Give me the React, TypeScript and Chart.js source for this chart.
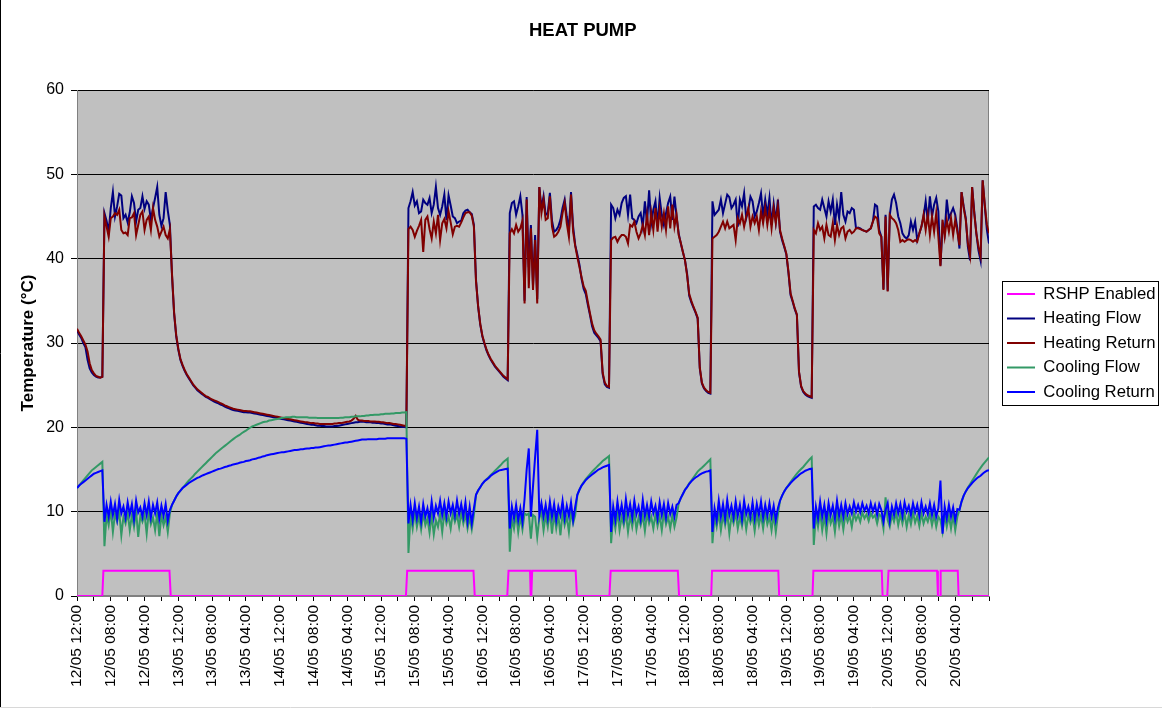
import React, { useEffect, useRef } from 'react';
import { Chart, registerables } from 'chart.js';

Chart.register(...registerables);

const CHART_TITLE = 'HEAT PUMP';
const Y_TITLE = 'Temperature (°C)';
const seriesNames = ['RSHP Enabled', 'Heating Flow', 'Heating Return', 'Cooling Flow', 'Cooling Return'];
const seriesColors = ['#FF00FF', '#000080', '#800000', '#339966', '#0000FF'];

// category labels, one every 8 hours from 12/05 00:00
const tickLabels = [
  '12/05 12:00', '12/05 08:00', '12/05 04:00',
  '13/05 12:00', '13/05 08:00', '13/05 04:00',
  '14/05 12:00', '14/05 08:00', '14/05 04:00',
  '15/05 12:00', '15/05 08:00', '15/05 04:00',
  '16/05 12:00', '16/05 08:00', '16/05 04:00',
  '17/05 12:00', '17/05 08:00', '17/05 04:00',
  '18/05 12:00', '18/05 08:00', '18/05 04:00',
  '19/05 12:00', '19/05 08:00', '19/05 04:00',
  '20/05 12:00', '20/05 08:00', '20/05 04:00',
];
const HOURS_PER_LABEL = 8;
const HOURS_TOTAL = 216;
const Y_MIN = 0;
const Y_MAX = 60;
const Y_STEP = 10;

// readings every half hour; each segment starts at the given hour
const SAMPLE_STEP = 0.5;
const segmentStartHours = [0, 6.5, 22.5, 78.5, 94.5, 102.5, 126.5, 150.5, 174.5];

// RSHP enabled: switching instants (hours) and states
const rshpHours = [0, 6.0, 6.25, 21.9, 22.2, 77.9, 78.2, 93.9, 94.2, 101.9, 102.2, 107.3, 107.45, 107.6, 107.8,
  118.1, 118.4, 126.1, 126.4, 142.3, 142.6, 150.2, 150.4, 166.1, 166.3, 174.2, 174.4, 190.6, 190.8,
  191.9, 192.2, 203.7, 203.9, 204.4, 204.55, 208.6, 208.8, 216];
const rshpValues = [0, 0, 3, 3, 0, 0, 3, 3, 0, 0, 3, 3, 0, 0, 3,
  3, 0, 0, 3, 3, 0, 0, 3, 3, 0, 0, 3, 3, 0,
  0, 3, 3, 0, 0, 3, 3, 0, 0];

const heatingFlow = [
  [31.5, 31.0, 30.6, 30.0, 29.5, 28.0, 27.0, 26.5, 26.2, 26.0, 25.9, 25.9, 26.0],
  [45.4, 44.5, 43.2, 46.0, 47.9, 45.0, 46.2, 47.7, 47.5, 44.8,
    45.2, 44.3, 45.5, 47.4, 46.6, 44.4, 45.8, 46.0, 47.4, 45.9,
    46.8, 46.4, 44.6, 46.0, 47.2, 48.5, 45.2, 43.9, 44.8, 47.9,
    45.7, 44.0],
  [38.0, 33.5, 30.8, 29.2, 28.0, 27.3, 26.7, 26.2, 25.8, 25.4,
    25.0, 24.7, 24.4, 24.2, 24.0, 23.8, 23.6, 23.5, 23.35, 23.2,
    23.05, 22.95, 22.85, 22.7, 22.6, 22.45, 22.35, 22.25, 22.15, 22.05,
    22.0, 21.95, 21.9, 21.85, 21.8, 21.8, 21.75, 21.75, 21.7, 21.65,
    21.6, 21.55, 21.5, 21.45, 21.4, 21.35, 21.3, 21.25, 21.2, 21.15,
    21.1, 21.05, 21.0, 20.95, 20.9, 20.85, 20.8, 20.75, 20.7, 20.65,
    20.6, 20.55, 20.5, 20.45, 20.4, 20.35, 20.3, 20.3, 20.25, 20.2,
    20.2, 20.15, 20.15, 20.1, 20.1, 20.1, 20.1, 20.15, 20.15, 20.2,
    20.25, 20.3, 20.35, 20.4, 20.45, 20.5, 20.55, 20.6, 20.6, 20.65,
    20.65, 20.65, 20.6, 20.6, 20.6, 20.55, 20.55, 20.5, 20.5, 20.45,
    20.45, 20.4, 20.35, 20.35, 20.3, 20.25, 20.2, 20.15, 20.1, 20.05,
    20.05, 20.0],
  [46.0, 46.8, 47.9, 46.3, 46.8, 45.4, 45.6, 47.0, 46.6, 46.4,
    47.2, 45.4, 46.4, 48.5, 46.0, 45.2, 46.2, 47.6, 44.6, 47.5,
    46.3, 45.0, 44.8, 44.2, 44.4, 44.5, 45.4, 45.7, 45.8, 45.5,
    45.3, 44.0],
  [37.5, 34.3, 32.2, 30.8, 29.9, 29.1, 28.5, 28.0, 27.6, 27.2, 26.9, 26.6, 26.3, 26.0, 25.8, 25.6],
  [45.4, 46.6, 46.8, 45.2, 46.2, 47.4, 45.2, 35.0, 47.3, 39.0,
    44.0, 36.8, 42.8, 35.2, 48.5, 46.0, 47.4, 45.2, 45.4, 47.8,
    44.5, 43.2, 43.4, 43.8, 44.6, 46.0, 47.0, 45.0, 43.4, 47.9,
    43.8, 41.6, 40.5, 39.3, 37.6, 36.4, 35.8, 34.5, 33.3, 32.0,
    31.2, 30.9, 30.6, 30.2, 26.3, 25.1, 24.8, 24.7],
  [46.4, 46.0, 44.8, 45.8, 45.2, 46.6, 47.2, 47.4, 45.2, 47.6,
    44.8, 44.6, 44.2, 45.0, 45.4, 43.8, 46.8, 44.2, 48.1, 44.2,
    45.8, 46.8, 44.0, 47.2, 45.2, 44.0, 45.4, 46.6, 47.35, 44.6,
    47.35, 45.0, 43.0, 41.8, 40.8, 39.8, 38.2, 35.6, 34.8, 34.2,
    33.6, 32.9, 27.0, 25.2, 24.6, 24.3, 24.1, 24.0],
  [46.8, 45.2, 45.5, 45.8, 47.0, 45.4, 46.5, 47.6, 47.3, 46.0,
    46.4, 47.0, 43.8, 47.0, 46.2, 47.75, 44.8, 45.8, 47.35, 46.8,
    45.0, 45.6, 46.6, 47.75, 45.0, 47.0, 45.2, 47.2, 44.0, 46.5,
    44.4, 47.0, 43.2, 42.2, 41.4, 40.5, 38.3, 35.7, 34.9, 34.0,
    33.3, 26.5, 24.8, 24.2, 23.9, 23.7, 23.6, 23.5],
  [46.2, 46.4, 46.0, 45.8, 47.0, 46.0, 45.0, 46.8, 45.6, 47.0,
    44.0, 46.4, 44.8, 47.9, 45.2, 44.4, 45.6, 45.4, 46.0, 45.8,
    43.6, 43.7, 43.6, 43.4, 43.3, 43.2, 43.4, 43.6, 44.4, 46.4,
    46.2, 43.4, 42.6, 36.4, 45.2, 36.2, 45.2, 47.0, 47.6, 46.6,
    45.0, 44.2, 43.0, 42.6, 42.4, 42.8, 44.4, 43.4, 44.4, 42.2,
    43.0, 43.8, 45.0, 46.8, 44.4, 47.4, 45.0, 46.4, 47.2, 45.6,
    39.2, 44.0, 43.0, 47.0, 44.8, 45.4, 46.0, 45.2, 43.6, 41.2,
    47.9, 46.2, 44.8, 41.4, 39.8, 48.5, 45.6, 43.0, 41.0, 39.8,
    49.3, 46.2, 43.4, 41.8],
];

const heatingReturn = [
  [31.7, 31.2, 30.8, 30.3, 29.8, 29.0, 27.6, 26.8, 26.4, 26.1, 26.0, 25.9, 26.0],
  [45.0, 43.8, 42.6, 44.8, 45.0, 45.4, 45.2, 45.8, 43.4, 43.0,
    43.1, 42.8, 44.8, 44.9, 45.4, 42.8, 44.0, 45.2, 45.6, 43.4,
    44.6, 45.0, 43.4, 46.0, 44.6, 43.8, 42.6, 43.2, 43.8, 42.8,
    42.4, 43.5],
  [38.2, 33.6, 30.9, 29.3, 28.1, 27.4, 26.8, 26.3, 25.9, 25.5,
    25.1, 24.8, 24.5, 24.3, 24.1, 23.9, 23.7, 23.6, 23.45, 23.3,
    23.2, 23.1, 23.0, 22.85, 22.75, 22.6, 22.5, 22.4, 22.3, 22.2,
    22.15, 22.1, 22.05, 22.0, 21.95, 21.95, 21.9, 21.9, 21.85, 21.8,
    21.75, 21.7, 21.65, 21.6, 21.55, 21.5, 21.45, 21.4, 21.35, 21.3,
    21.25, 21.2, 21.15, 21.1, 21.05, 21.0, 20.95, 20.9, 20.85, 20.8,
    20.75, 20.7, 20.65, 20.6, 20.6, 20.55, 20.5, 20.5, 20.45, 20.45,
    20.4, 20.4, 20.4, 20.4, 20.4, 20.4, 20.4, 20.45, 20.45, 20.5,
    20.5, 20.55, 20.6, 20.65, 20.7, 20.8, 21.0, 21.35, 20.9, 20.8,
    20.8, 20.75, 20.75, 20.75, 20.7, 20.7, 20.7, 20.65, 20.65, 20.6,
    20.6, 20.55, 20.5, 20.5, 20.45, 20.4, 20.4, 20.35, 20.3, 20.25,
    20.2, 20.2],
  [43.5, 43.8, 43.4, 42.6, 43.3, 43.9, 44.6, 40.8, 44.6, 45.0,
    43.5, 42.4, 44.4, 43.0, 45.2, 42.2, 44.2, 44.7, 43.6, 45.6,
    44.3, 42.9, 43.8, 43.9, 43.8, 44.3, 44.9, 45.4, 45.5, 45.5,
    45.1, 43.8],
  [37.3, 34.4, 32.3, 30.9, 30.0, 29.2, 28.6, 28.1, 27.7, 27.3, 27.0, 26.7, 26.4, 26.1, 25.9, 25.7],
  [43.0, 43.5, 43.0, 44.0, 43.2, 43.6, 44.5, 34.7, 47.0, 36.5,
    43.6, 36.3, 42.2, 34.7, 48.5, 45.4, 47.0, 44.6, 44.8, 47.4,
    43.8, 42.6, 42.8, 43.2, 43.8, 45.4, 46.6, 44.2, 42.6, 47.6,
    43.2, 41.5, 40.2, 39.0, 37.8, 36.7, 36.2, 34.8, 33.5, 32.3,
    31.5, 31.1, 30.8, 30.4, 26.5, 25.3, 24.9, 24.8],
  [42.2, 42.5, 42.6, 42.0, 42.5, 42.8, 42.8, 42.6, 41.8, 44.0,
    43.8, 44.4, 43.2, 42.4, 43.0, 44.0, 42.8, 45.2, 42.8, 45.4,
    43.4, 46.0, 43.2, 45.8, 43.8, 45.4, 43.4, 46.2, 43.6, 46.4,
    43.8, 45.2, 42.8, 41.9, 40.8, 39.8, 38.0, 35.8, 35.0, 34.3,
    33.7, 33.0, 27.1, 25.3, 24.7, 24.4, 24.2, 24.1],
  [42.4, 42.6, 42.8, 43.2, 43.8, 44.4, 43.6, 44.4, 43.6, 43.8,
    44.0, 42.2, 44.8, 44.2, 45.2, 43.8, 45.0, 46.0, 43.8, 45.0,
    44.2, 45.0, 43.4, 45.6, 44.2, 46.0, 44.0, 45.8, 43.6, 46.0,
    44.2, 46.2, 43.4, 42.4, 41.5, 40.6, 38.5, 35.9, 35.0, 34.1,
    33.4, 26.6, 24.9, 24.3, 24.0, 23.8, 23.7, 23.6],
  [43.4, 43.0, 44.2, 43.4, 43.8, 42.4, 44.0, 42.8, 42.6, 44.2,
    42.2, 44.0, 42.8, 43.6, 43.8, 42.4, 43.2, 43.4, 43.0, 43.2,
    43.6, 43.6, 43.5, 43.4, 43.3, 43.2, 43.4, 43.6, 44.4, 45.0,
    44.8, 43.0, 42.6, 36.3, 45.0, 36.1, 45.2, 44.8, 44.6, 44.2,
    43.4, 42.0, 42.2, 42.0, 42.2, 42.3, 42.2, 42.0, 42.2, 42.0,
    43.0, 43.8, 45.2, 43.4, 45.2, 42.8, 45.0, 43.2, 45.4, 42.6,
    39.1, 44.6, 42.6, 44.6, 43.2, 44.8, 42.8, 44.6, 43.2, 41.6,
    47.9, 46.0, 44.6, 41.8, 40.4, 48.5, 45.4, 43.0, 41.4, 40.3,
    49.3, 46.4, 44.0, 43.0],
];

const coolingFlow = [
  [12.8, 13.1, 13.4, 13.7, 14.0, 14.3, 14.6, 14.9, 15.1, 15.3, 15.5, 15.7, 15.9],
  [5.9, 9.6, 8.4, 10.2, 7.6, 9.8, 8.8, 10.0, 7.2, 9.4,
    8.6, 9.9, 7.8, 9.6, 8.2, 10.1, 7.0, 9.5, 8.8, 9.7,
    7.4, 10.0, 8.5, 9.3, 7.8, 9.8, 7.1, 9.6, 8.4, 9.4,
    7.6, 9.8],
  [10.8, 11.3, 11.8, 12.2, 12.5, 12.8, 13.1, 13.4, 13.7, 13.95,
    14.2, 14.5, 14.75, 15.0, 15.25, 15.5, 15.75, 16.0, 16.25, 16.5,
    16.75, 17.0, 17.2, 17.4, 17.6, 17.8, 18.0, 18.2, 18.4, 18.6,
    18.8, 18.95, 19.1, 19.3, 19.45, 19.6, 19.8, 19.95, 20.1, 20.2,
    20.3, 20.4, 20.5, 20.6, 20.65, 20.7, 20.8, 20.85, 20.9, 20.95,
    21.0, 21.05, 21.1, 21.15, 21.2, 21.2, 21.2, 21.25, 21.25, 21.2,
    21.2, 21.2, 21.2, 21.2, 21.2, 21.15, 21.15, 21.15, 21.15, 21.1,
    21.1, 21.1, 21.1, 21.1, 21.1, 21.1, 21.1, 21.1, 21.1, 21.1,
    21.15, 21.15, 21.2, 21.2, 21.2, 21.25, 21.25, 21.3, 21.3, 21.3,
    21.35, 21.35, 21.4, 21.4, 21.45, 21.45, 21.5, 21.5, 21.5, 21.55,
    21.55, 21.6, 21.6, 21.6, 21.65, 21.65, 21.7, 21.7, 21.7, 21.75,
    21.75, 21.8],
  [5.1, 9.6, 8.0, 10.0, 8.2, 9.5, 7.9, 9.8, 8.4, 9.2,
    7.5, 9.6, 7.3, 9.0, 8.2, 9.7, 7.6, 9.9, 8.6, 9.4,
    8.0, 9.8, 8.8, 9.6, 8.2, 9.9, 8.6, 9.7, 8.0, 9.3,
    7.9, 9.6],
  [12.0, 12.5, 12.9, 13.3, 13.6, 13.85, 14.1, 14.35, 14.6, 14.85, 15.1, 15.35, 15.6, 15.9, 16.1, 16.3],
  [5.25, 9.2, 8.0, 9.8, 7.6, 9.4, 7.9, 9.8, 9.6, 9.8,
    6.8, 9.6, 9.4, 7.0, 9.2, 10.0, 7.8, 9.6, 8.2, 10.1,
    7.4, 9.8, 8.0, 9.6, 7.2, 9.9, 8.4, 9.4, 7.6, 10.0,
    8.6, 9.6, 12.0, 12.6, 13.1, 13.5, 13.85, 14.15, 14.45, 14.75,
    15.0, 15.25, 15.5, 15.75, 16.0, 16.2, 16.4, 16.6],
  [6.25, 9.6, 8.0, 10.0, 7.8, 9.4, 8.4, 9.8, 7.6, 9.5,
    8.2, 9.9, 7.9, 9.3, 8.4, 9.6, 7.7, 9.8, 8.6, 9.4,
    8.0, 9.7, 8.3, 9.5, 7.8, 9.9, 8.5, 9.4, 8.0, 9.6,
    8.2, 9.3, 11.0, 11.6, 12.1, 12.6, 12.95, 13.35, 13.7, 14.05,
    14.4, 14.75, 15.0, 15.2, 15.45, 15.7, 15.95, 16.2],
  [6.25, 9.4, 8.2, 9.9, 7.8, 9.6, 8.4, 9.8, 7.4, 9.5,
    8.6, 9.9, 8.0, 9.4, 8.3, 9.8, 7.9, 9.6, 8.7, 9.5,
    7.7, 9.8, 8.4, 9.6, 8.0, 9.9, 8.5, 9.4, 7.8, 9.7,
    7.6, 9.6, 11.3, 11.9, 12.4, 12.8, 13.15, 13.5, 13.85, 14.2,
    14.5, 14.8, 15.05, 15.3, 15.6, 15.9, 16.2, 16.45],
  [6.05, 9.6, 8.2, 9.9, 7.8, 9.5, 7.4, 9.8, 8.6, 9.4,
    7.6, 9.9, 8.3, 9.6, 7.9, 9.7, 8.8, 9.5, 8.2, 9.8,
    9.0, 9.6, 8.8, 9.9, 9.2, 9.7, 8.9, 9.8, 9.3, 9.6,
    8.6, 9.7, 9.4, 8.0, 11.7, 9.0, 8.2, 9.6, 8.8, 9.9,
    8.4, 9.7, 8.6, 9.8, 8.2, 9.6, 8.5, 9.9, 8.7, 9.5,
    8.3, 9.8, 8.6, 9.4, 8.8, 9.7, 8.4, 9.6, 8.2, 9.4,
    9.0, 7.6, 9.6, 8.2, 9.5, 8.0, 9.6, 7.8, 9.4, 10.2,
    11.2, 11.9, 12.4, 12.85, 13.25, 13.65, 14.05, 14.45, 14.85, 15.2,
    15.55, 15.85, 16.15, 16.45],
];

const coolingReturn = [
  [12.8, 13.1, 13.3, 13.5, 13.7, 13.9, 14.1, 14.3, 14.5, 14.6, 14.7, 14.8, 14.9],
  [8.8, 10.8, 9.4, 11.2, 9.6, 10.9, 9.2, 11.4, 9.8, 10.6,
    9.3, 11.1, 9.7, 10.9, 9.1, 11.3, 9.9, 10.5, 9.4, 11.0,
    9.6, 11.2, 9.3, 10.8, 9.8, 11.1, 9.2, 10.7, 9.5, 10.9,
    8.9, 10.2],
  [10.8, 11.3, 11.8, 12.2, 12.5, 12.8, 13.0, 13.2, 13.4, 13.55,
    13.7, 13.85, 14.0, 14.1, 14.25, 14.35, 14.45, 14.55, 14.65, 14.75,
    14.85, 14.95, 15.05, 15.1, 15.2, 15.3, 15.35, 15.45, 15.5, 15.6,
    15.65, 15.7, 15.8, 15.85, 15.9, 16.0, 16.05, 16.1, 16.2, 16.25,
    16.3, 16.4, 16.45, 16.55, 16.6, 16.7, 16.75, 16.8, 16.85, 16.9,
    16.95, 17.0, 17.05, 17.05, 17.1, 17.15, 17.2, 17.25, 17.3, 17.3,
    17.35, 17.4, 17.4, 17.45, 17.5, 17.5, 17.55, 17.55, 17.6, 17.6,
    17.65, 17.7, 17.75, 17.8, 17.85, 17.85, 17.9, 17.95, 18.0, 18.05,
    18.1, 18.15, 18.2, 18.2, 18.25, 18.3, 18.35, 18.4, 18.45, 18.5,
    18.55, 18.55, 18.55, 18.6, 18.6, 18.6, 18.6, 18.6, 18.65, 18.65,
    18.65, 18.65, 18.7, 18.7, 18.7, 18.7, 18.7, 18.7, 18.7, 18.7,
    18.7, 18.65],
  [8.6, 10.8, 9.0, 11.0, 9.2, 10.6, 8.8, 10.9, 9.4, 10.4,
    9.0, 11.2, 9.3, 10.7, 9.8, 11.3, 9.6, 11.0, 9.4, 11.2,
    9.8, 10.8, 9.5, 11.3, 9.7, 10.9, 9.4, 11.1, 8.8, 10.6,
    8.6, 10.4],
  [12.0, 12.5, 12.9, 13.3, 13.6, 13.8, 14.0, 14.25, 14.45, 14.6, 14.75, 14.9, 14.95, 15.0, 15.05, 15.1],
  [8.0, 10.6, 9.2, 10.8, 9.0, 10.4, 8.8, 11.5, 15.0, 17.5,
    9.4, 13.0, 16.5, 19.7, 9.6, 11.0, 9.4, 10.8, 9.2, 11.2,
    9.4, 10.9, 9.0, 10.6, 9.6, 11.3, 9.2, 10.7, 9.5, 11.1,
    9.0, 10.6, 12.0, 12.6, 13.1, 13.4, 13.75, 14.0, 14.2, 14.4,
    14.6, 14.8, 15.0, 15.1, 15.25, 15.35, 15.45, 15.55],
  [7.6, 10.6, 9.0, 11.2, 9.4, 10.8, 9.2, 11.5, 9.6, 10.9,
    9.3, 11.3, 9.7, 10.6, 9.1, 11.4, 9.5, 10.8, 9.4, 11.2,
    9.8, 10.7, 9.2, 11.1, 9.6, 10.9, 9.3, 11.0, 9.7, 10.6,
    9.4, 10.8, 11.0, 11.6, 12.1, 12.6, 12.9, 13.3, 13.6, 13.85,
    14.05, 14.2, 14.4, 14.55, 14.65, 14.75, 14.8, 14.9],
  [7.6, 10.4, 9.0, 11.3, 9.4, 10.9, 9.2, 11.4, 9.6, 10.7,
    9.3, 11.2, 9.5, 10.8, 9.1, 11.3, 9.7, 10.6, 9.4, 11.1,
    9.2, 10.9, 9.6, 11.2, 9.3, 10.8, 9.5, 11.0, 9.4, 10.7,
    9.0, 10.4, 11.3, 11.9, 12.4, 12.8, 13.1, 13.4, 13.65, 13.9,
    14.1, 14.35, 14.55, 14.7, 14.85, 14.95, 15.05, 15.1],
  [8.0, 10.6, 9.2, 11.2, 9.4, 10.8, 9.0, 11.0, 9.6, 10.7,
    9.2, 11.3, 9.5, 10.8, 9.4, 11.0, 9.7, 10.6, 9.8, 11.1,
    10.0, 10.8, 9.9, 11.0, 10.1, 10.7, 9.8, 11.0, 10.0, 10.8,
    9.6, 10.9, 10.2, 8.8, 10.2, 11.0, 8.9, 10.6, 9.6, 11.0,
    9.8, 10.9, 9.5, 11.1, 10.0, 10.7, 9.6, 11.0, 9.9, 10.8,
    9.5, 11.1, 9.8, 10.6, 9.7, 11.0, 9.6, 10.8, 9.4, 10.4,
    13.7, 7.4, 10.6, 9.2, 10.8, 9.4, 10.5, 9.0, 10.3, 10.2,
    11.2, 11.9, 12.4, 12.8, 13.1, 13.4, 13.65, 13.9, 14.1, 14.25,
    14.5, 14.7, 14.85, 14.9],
];

function segmentsToPoints(segments: number[][]) {
  const pts: { x: number; y: number }[] = [];
  segments.forEach((seg, s) => {
    seg.forEach((v, k) => pts.push({ x: segmentStartHours[s] + k * SAMPLE_STEP, y: v }));
  });
  return pts;
}

const FONT_FAMILY = "'Liberation Sans', Arial, Helvetica, sans-serif";

const decorations = {
  id: 'excelDecorations',
  afterUpdate(chart: any) {
    // centre the legend entries on the plot area, as in the original
    const lg = chart.legend;
    const a = chart.chartArea;
    if (!lg || !lg.legendHitBoxes || !lg.legendHitBoxes.length || !a) return;
    const hb = lg.legendHitBoxes;
    const last = hb[hb.length - 1];
    const colHeight = last.top + last.height - hb[0].top;
    const wantTop = (a.top + a.bottom) / 2 - colHeight / 2;
    const dy = wantTop - hb[0].top;
    lg.top += dy;
    lg.bottom += dy;
    hb.forEach((h: any) => { h.top += dy; });
  },
  beforeDraw(chart: any) {
    const { ctx, chartArea: a } = chart;
    ctx.save();
    ctx.fillStyle = '#FFFFFF';
    ctx.fillRect(0, 0, chart.width, chart.height);
    ctx.fillStyle = '#C0C0C0';
    ctx.fillRect(a.left, a.top, a.right - a.left, a.bottom - a.top);
    ctx.strokeStyle = '#808080';
    ctx.lineWidth = 1;
    ctx.strokeRect(Math.round(a.left) + 0.5, Math.round(a.top) + 0.5, Math.round(a.right - a.left) - 1, Math.round(a.bottom - a.top) - 1);
    ctx.restore();
  },
  afterDraw(chart: any) {
    const { ctx } = chart;
    ctx.save();
    const lg = chart.legend;
    if (lg && lg.legendHitBoxes && lg.legendHitBoxes.length) {
      const hb = lg.legendHitBoxes;
      const left = hb[0].left - 5;
      const top = hb[0].top - 4.6;
      const right = Math.max(...hb.map((h: any) => h.left + h.width)) + 2.5;
      const last = hb[hb.length - 1];
      const bottom = last.top + last.height + 4.6;
      ctx.strokeStyle = '#000000';
      ctx.lineWidth = 1;
      ctx.strokeRect(Math.round(left) + 0.5, Math.round(top) + 0.5, Math.round(right - left), Math.round(bottom - top));
    }
    // chart outer frame
    ctx.strokeStyle = '#000000';
    ctx.beginPath();
    ctx.moveTo(0.5, 0);
    ctx.lineTo(0.5, 707);
    ctx.stroke();
    ctx.strokeStyle = '#D8D8D8';
    ctx.beginPath();
    ctx.moveTo(0, 707.5);
    ctx.lineTo(1162, 707.5);
    ctx.stroke();
    ctx.restore();
  },
};

export default function App() {
  const canvasRef = useRef<HTMLCanvasElement | null>(null);

  useEffect(() => {
    const canvas = canvasRef.current;
    if (!canvas) return;
    Chart.defaults.font.family = FONT_FAMILY;
    Chart.defaults.color = '#000000';

    const rshpPoints = rshpHours.map((h, i) => ({ x: h, y: rshpValues[i] }));
    const seriesData = [
      rshpPoints,
      segmentsToPoints(heatingFlow),
      segmentsToPoints(heatingReturn),
      segmentsToPoints(coolingFlow),
      segmentsToPoints(coolingReturn),
    ];

    const chart = new Chart(canvas, {
      type: 'line',
      data: {
        datasets: seriesNames.map((name, i) => ({
          label: name,
          data: seriesData[i],
          borderColor: seriesColors[i],
          backgroundColor: seriesColors[i],
          borderWidth: 2,
          pointRadius: 0,
          pointHoverRadius: 0,
          tension: 0,
          fill: false,
          order: seriesNames.length - i,
        })),
      },
      options: {
        animation: false,
        responsive: false,
        devicePixelRatio: 1,
        events: [],
        layout: { padding: { left: 0, right: 1.4, top: 0, bottom: 0 } },
        scales: {
          x: {
            type: 'linear',
            position: 'bottom',
            min: 0,
            max: HOURS_TOTAL,
            ticks: {
              stepSize: HOURS_PER_LABEL / 2,
              autoSkip: false,
              maxRotation: 90,
              minRotation: 90,
              padding: 4,
              font: { size: 15.5 },
              color: '#000000',
              callback: (value: any) => {
                const v = Number(value);
                if (v % HOURS_PER_LABEL !== 0) return '';
                const idx = v / HOURS_PER_LABEL;
                return idx < tickLabels.length ? tickLabels[idx] : '';
              },
            },
            grid: { drawOnChartArea: false, drawTicks: true, tickLength: 5, color: '#000000' },
            border: { color: '#808080' },
            afterFit: (s: any) => { s.height = 116; },
          },
          y: {
            type: 'linear',
            position: 'left',
            min: Y_MIN,
            max: Y_MAX,
            ticks: { stepSize: Y_STEP, padding: 7, font: { size: 16 }, color: '#000000' },
            grid: { color: '#000000', lineWidth: 1, tickLength: 6, drawTicks: true },
            border: { color: '#808080' },
            title: {
              display: true,
              text: Y_TITLE,
              font: { size: 17, weight: 'bold' },
              color: '#000000',
              padding: { top: 17.8, bottom: 0 },
            },
            afterFit: (s: any) => { s.width = 77; },
          },
          yr: {
            type: 'linear',
            position: 'right',
            display: true,
            grid: { display: false },
            border: { display: false },
            ticks: { display: false },
            afterFit: (s: any) => { s.width = 10.2; },
          },
        },
        plugins: {
          title: {
            display: true,
            text: CHART_TITLE,
            font: { size: 18.5, weight: 'bold' },
            color: '#000000',
            padding: { top: 19.6, bottom: 48.2 },
          },
          legend: {
            display: true,
            position: 'right',
            align: 'center',
            labels: {
              usePointStyle: true,
              pointStyle: 'line',
              pointStyleWidth: 28,
              font: { size: 16.7 },
              color: '#000000',
              padding: 7.8,
              sort: (a: any, b: any) => a.datasetIndex - b.datasetIndex,
            },
          },
          tooltip: { enabled: false },
        },
      },
      plugins: [decorations],
    } as any);

    return () => { chart.destroy(); };
  }, []);

  return (
    <div style={{ position: 'absolute', left: 0, top: 0, width: 1167, height: 712, background: '#ffffff' }}>
      <canvas ref={canvasRef} width={1167} height={712} style={{ display: 'block', width: 1167, height: 712 }} />
    </div>
  );
}
